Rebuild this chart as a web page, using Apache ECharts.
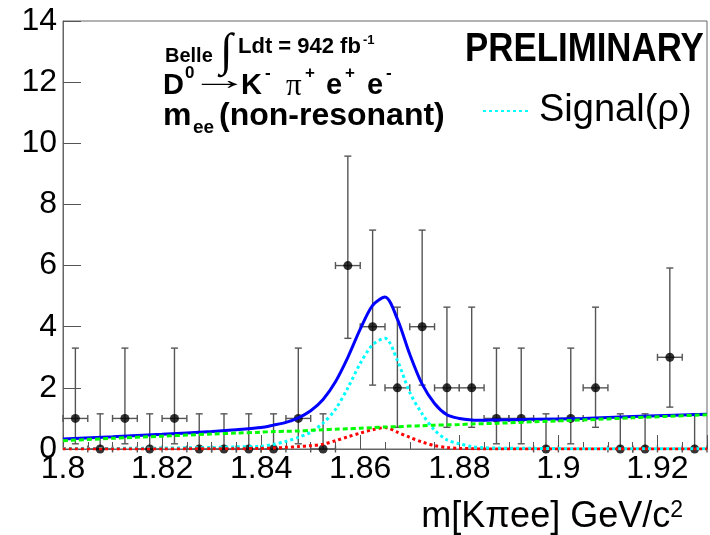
<!DOCTYPE html>
<html>
<head>
<meta charset="utf-8">
<script src="https://cdn.jsdelivr.net/npm/echarts@6/dist/echarts.min.js"></script>
<style>
  html, body { margin: 0; padding: 0; background: #fff; }
  #chart { width: 710px; height: 535px; }
</style>
</head>
<body>
<div id="chart"></div>
<script>
// data points: bin centres, counts and asymmetric (Poisson) errors
var binCenters = [1.8025, 1.8075, 1.8125, 1.8175, 1.8225, 1.8275, 1.8325, 1.8375, 1.8425, 1.8475,
                  1.8525, 1.8575, 1.8625, 1.8675, 1.8725, 1.8775, 1.8825, 1.8875, 1.8925, 1.8975,
                  1.9025, 1.9075, 1.9125, 1.9175, 1.9225, 1.9275];
var counts  = [1, 0, 1, 0, 1, 0, 0, 0, 0, 1, 0, 6, 4, 2, 4, 2, 2, 1, 1, 0, 1, 2, 0, 0, 3, 0];
var errLow  = [0.83, 0, 0.83, 0, 0.83, 0, 0, 0, 0, 0.83, 0, 2.38, 1.91, 1.29, 1.91, 1.29, 1.29, 0.83, 0.83, 0,
               0.83, 1.29, 0, 0, 1.63, 0];
var errHigh = [2.30, 1.15, 2.30, 1.15, 2.30, 1.15, 1.15, 1.15, 1.15, 2.30, 1.15, 3.58, 3.16, 2.64, 3.16, 2.64,
               2.64, 2.30, 2.30, 1.15, 2.30, 2.64, 1.15, 1.15, 2.92, 1.15];
var binHalf = 0.0025;

// fit curves
var curveX = [1.800, 1.810, 1.820, 1.830, 1.835, 1.840, 1.8425, 1.845, 1.8475, 1.850,
              1.8525, 1.855, 1.8575, 1.860, 1.8625, 1.865, 1.8675, 1.870, 1.8725, 1.875,
              1.8775, 1.880, 1.8825, 1.885, 1.8875, 1.895, 1.905, 1.915, 1.930];
var totalFit = [0.33, 0.40, 0.48, 0.57, 0.63, 0.70, 0.78, 0.87, 1.02, 1.25,
                1.62, 2.20, 3.00, 3.92, 4.70, 4.97, 4.25, 3.10, 2.12, 1.49,
                1.12, 1.00, 0.95, 0.94, 0.95, 0.97, 1.00, 1.06, 1.14];
var signalFit = [0.02, 0.02, 0.03, 0.05, 0.07, 0.09, 0.15, 0.25, 0.38, 0.55,
                 0.85, 1.30, 2.00, 2.80, 3.41, 3.62, 2.90, 1.85, 1.15, 0.62,
                 0.30, 0.17, 0.08, 0.04, 0.03, 0.02, 0.01, 0.01, 0.01];
var peakingFit = [0, 0, 0, 0.01, 0.01, 0.02, 0.03, 0.05, 0.08, 0.11,
                  0.16, 0.27, 0.40, 0.52, 0.63, 0.70, 0.55, 0.38, 0.23, 0.11,
                  0.05, 0.02, 0.01, 0, 0, 0, 0, 0, 0];
var bkgFit = [0.27, 0.35, 0.42, 0.49, 0.52, 0.55, 0.57, 0.58, 0.59, 0.61,
              0.63, 0.65, 0.66, 0.68, 0.70, 0.72, 0.73, 0.75, 0.76, 0.78,
              0.79, 0.80, 0.82, 0.83, 0.84, 0.89, 0.95, 1.02, 1.12];

var FONT = "'Liberation Sans', Arial, Helvetica, sans-serif";
var SERIF = "'Liberation Serif', 'Times New Roman', serif";

function pairs(ys) {
    return curveX.map(function (x, i) { return [x, ys[i]]; });
}

function drawErrors(params, api) {
    var x = api.value(0), y = api.value(1);
    var lo = api.value(2), hi = api.value(3);
    var top = api.coord([x, y + hi]);
    var bot = api.coord([x, y - lo]);
    var l = api.coord([x - binHalf, y]);
    var r = api.coord([x + binHalf, y]);
    var c = 3.5;
    var segs = [
        [top[0], top[1], bot[0], bot[1]],
        [top[0] - c, top[1], top[0] + c, top[1]],
        [l[0], l[1], r[0], r[1]],
        [l[0], l[1] - c, l[0], l[1] + c],
        [r[0], r[1] - c, r[0], r[1] + c]
    ];
    if (lo > 0) segs.push([bot[0] - c, bot[1], bot[0] + c, bot[1]]);
    return {
        type: 'group',
        children: segs.map(function (s) {
            return {
                type: 'line',
                shape: { x1: s[0], y1: s[1], x2: s[2], y2: s[3] },
                style: { stroke: '#555', lineWidth: 1.4 }
            };
        })
    };
}

// small helper for the annotation texts
function txt(str, x, y, size, extra) {
    var st = {
        text: str, fontSize: size, fontFamily: FONT, fontWeight: 'bold', fill: '#000',
        align: 'left', verticalAlign: 'middle', textAlign: 'left', textVerticalAlign: 'middle'
    };
    var el = { type: 'text', x: x, y: y, z: 100, style: st };
    if (extra) {
        for (var k in extra) {
            if (k === 'scaleX') el.scaleX = extra[k];
            else st[k] = extra[k];
        }
    }
    return el;
}

var chart = echarts.init(document.getElementById('chart'));

var option = {
    animation: false,
    backgroundColor: '#fff',
    grid: { left: 63, top: 21, right: -3, bottom: 86, show: true, borderColor: '#666', borderWidth: 1 },
    xAxis: {
        type: 'value', min: 1.8, max: 1.93, interval: 0.02,
        name: 'm[Kπee] GeV/c{sup|2}', nameLocation: 'end', nameGap: -24,
        nameTextStyle: {
            fontSize: 36, fontFamily: FONT, color: '#000', align: 'right', verticalAlign: 'top',
            padding: [50, 0, 0, 0],
            rich: { sup: { fontSize: 23, fontFamily: FONT, verticalAlign: 'top', padding: [0, 0, 8, 0] } }
        },
        axisLine: { show: true, lineStyle: { color: '#666', width: 1 } },
        axisTick: { inside: true, length: 14, lineStyle: { color: '#555' } },
        minorTick: { show: true, splitNumber: 4, length: 7, lineStyle: { color: '#555' } },
        splitLine: { show: false },
        axisLabel: {
            fontSize: 32, fontFamily: FONT, color: '#000', margin: 4,
            formatter: function (v) {
                var k = Math.round(v / 0.02);
                if (Math.abs(v - k * 0.02) > 1e-6) return '';
                return String(+v.toFixed(2));
            }
        }
    },
    yAxis: {
        type: 'value', min: 0, max: 14, interval: 2,
        axisLine: { show: true, lineStyle: { color: '#666', width: 1 } },
        axisTick: { inside: true, length: 18, lineStyle: { color: '#555' } },
        splitLine: { show: false },
        axisLabel: { fontSize: 32, fontFamily: FONT, color: '#000', margin: 6 }
    },
    legend: {
        data: ['Signal(ρ)'],
        left: 477, top: 87,
        itemWidth: 46, itemHeight: 14,
        itemStyle: { opacity: 0, borderWidth: 0 },
        textStyle: { fontSize: 38, fontFamily: FONT, color: '#000', padding: [0, 0, 12, 5] }
    },
    series: [
        {
            name: 'errors', type: 'custom', renderItem: drawErrors, z: 2,
            encode: { x: 0, y: 1 },
            data: binCenters.map(function (x, i) { return [x, counts[i], errLow[i], errHigh[i]]; })
        },
        {
            name: 'data', type: 'scatter', symbolSize: 9, z: 3,
            itemStyle: { color: '#000' },
            data: binCenters.map(function (x, i) { return [x, counts[i]]; })
        },
        {
            name: 'Total', type: 'line', smooth: 0.3, symbol: 'none', z: 4,
            lineStyle: { color: '#0000ff', width: 3 },
            data: pairs(totalFit)
        },
        {
            name: 'Signal(ρ)', type: 'line', smooth: 0.3, symbol: 'none', z: 5,
            lineStyle: { color: '#00ffff', width: 3, type: [3, 3] },
            itemStyle: { color: '#00ffff' },
            data: pairs(signalFit)
        },
        {
            name: 'Peaking', type: 'line', smooth: 0.3, symbol: 'none', z: 6,
            lineStyle: { color: '#ff0000', width: 3, type: [3, 3] },
            data: pairs(peakingFit)
        },
        {
            name: 'Background', type: 'line', smooth: 0.3, symbol: 'none', z: 7,
            lineStyle: { color: '#00ff00', width: 3, type: [5, 3] },
            data: pairs(bkgFit)
        }
    ],
    graphic: [
        txt('Belle', 165, 56, 20),
        txt('∫', 220, 53, 46, { fontWeight: 'normal', fontFamily: SERIF }),
        txt('Ldt = 942 fb', 238, 47, 22),
        txt('-1', 363, 40, 13),
        txt('D', 163, 86, 29),
        txt('0', 185, 73, 17),
        txt('→', 189, 81, 28, { fontWeight: 'normal', scaleX: 2.15 }),
        txt('K', 241, 86, 29),
        txt('-', 265, 73, 17),
        txt('π', 286, 87, 31, { fontWeight: 'normal', fontFamily: SERIF }),
        txt('+', 305, 73, 17),
        txt('e', 326, 86, 29),
        txt('+', 345, 73, 17),
        txt('e', 367, 86, 29),
        txt('-', 386, 73, 17),
        txt('m', 163, 116, 32),
        txt('ee', 193, 128, 19),
        txt('(non-resonant)', 219, 116, 32),
        txt('PRELIMINARY', 465, 50, 41, { scaleX: 0.85 })
    ]
};

chart.setOption(option);
</script>
</body>
</html>
